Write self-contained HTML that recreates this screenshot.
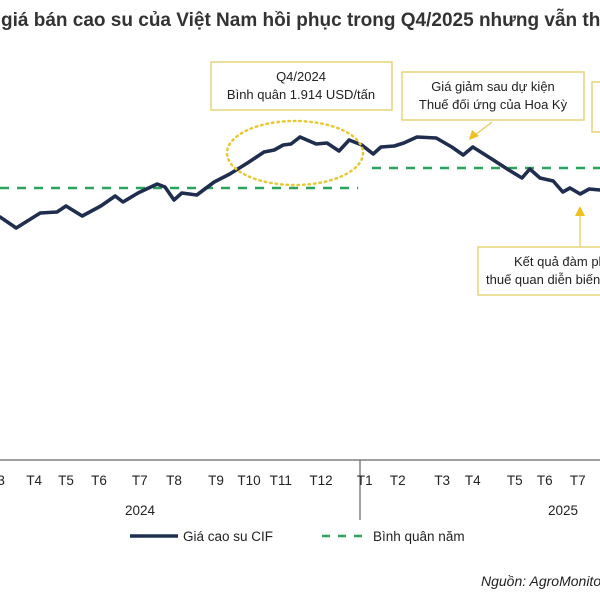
<!DOCTYPE html>
<html><head><meta charset="utf-8">
<style>
body{margin:0;background:#fff;}
svg{display:block;font-family:"Liberation Sans","Noto Sans CJK SC",sans-serif;}
</style></head>
<body>
<svg id="chart" width="600" height="600" viewBox="0 0 600 600">
<text x="1" y="26" font-size="19" font-weight="bold" fill="#333">giá bán cao su của Việt Nam hồi phục trong Q4/2025 nhưng vẫn thấp hơn cùng kỳ</text>
<g id="marks"></g>
<ellipse cx="295" cy="153" rx="68" ry="32" fill="none" stroke="#e8c832" stroke-width="2.5" stroke-dasharray="1.5,4" stroke-linecap="round"/>
<g>
<rect x="211" y="62" width="181" height="48" fill="#fff" stroke="#e6d37a" stroke-width="1.5"/>
<text x="301" y="81" font-size="13" text-anchor="middle" fill="#222">Q4/2024</text>
<text x="301" y="99" font-size="13" text-anchor="middle" fill="#222">Bình quân 1.914 USD/tấn</text>
</g>
<g>
<rect x="402" y="72" width="182" height="48" fill="#fff" stroke="#e6d37a" stroke-width="1.5"/>
<text x="493" y="91" font-size="13" text-anchor="middle" fill="#222">Giá giảm sau dự kiện</text>
<text x="493" y="109" font-size="13" text-anchor="middle" fill="#222">Thuế đối ứng của Hoa Kỳ</text>
<line x1="492" y1="122" x2="475" y2="135" stroke="#e6c84a" stroke-width="1.2"/>
<polygon points="469,140 472,130 479,136" fill="#f0c020"/>
</g>
<rect x="592" y="82" width="20" height="50" fill="#fff" stroke="#e6d37a" stroke-width="1.5"/>
<g>
<line x1="580" y1="247" x2="580" y2="214" stroke="#e6c84a" stroke-width="1.2"/>
<polygon points="580,206 575,216 585,216" fill="#f0c020"/>
<rect x="478" y="247" width="130" height="48" fill="#fff" stroke="#e6d37a" stroke-width="1.5"/>
<text x="514" y="266" font-size="13" fill="#222">Kết quả đàm phán</text>
<text x="486" y="284" font-size="13" fill="#222">thuế quan diễn biến</text>
</g>
<line x1="0" y1="460" x2="600" y2="460" stroke="#666" stroke-width="1.2"/>
<line x1="360" y1="460" x2="360" y2="520" stroke="#666" stroke-width="1.2"/>
<g id="ticks" font-size="13.5" fill="#222"></g>
<text x="140" y="515" font-size="13.5" text-anchor="middle" fill="#222">2024</text>
<text x="563" y="515" font-size="13.5" text-anchor="middle" fill="#222">2025</text>
<g>
<line x1="130" y1="536" x2="178" y2="536" stroke="#1f2d4e" stroke-width="3.5"/>
<text x="183" y="541" font-size="13.5" fill="#222">Giá cao su CIF</text>
<line x1="322" y1="536" x2="369" y2="536" stroke="#2ca25f" stroke-width="2.5" stroke-dasharray="8,8"/>
<text x="373" y="541" font-size="13.5" fill="#222">Bình quân năm</text>
</g>
<text x="481" y="586" font-size="14" font-style="italic" fill="#222">Nguồn: AgroMonitor</text>
</svg>
<script>
const weeks=[0,2.7,6.7,9.5,11,13.7,16.8,19.2,20.5,23,26.2,27.5,29,30.3,32.8,35.7,38.3,41.5,44,45.7,47.2,48.5,50,52.7,54.5,56.5,58.2,60.3,62.2,63.5,65.7,67.3,69.5,72.7,75.3,77.2,78.8,81.7,84.8,87,88.3,90,92.2,93.8,95,96.7,98.2,100];
const prices=[1600,1545,1620,1625,1655,1605,1655,1705,1675,1720,1765,1750,1685,1720,1710,1775,1815,1875,1925,1935,1960,1965,2000,1965,1970,1930,1985,1960,1915,1950,1955,1970,2000,1995,1950,1910,1950,1895,1835,1795,1840,1795,1780,1725,1745,1715,1740,1735];
const avgYears=["2024","2025"];
const avgValues=[1745,1845];
const avgStart=[0,62];
const avgEnd=[59.7,100];
const monthLabels=["T3","T4","T5","T6","T7","T8","T9","T10","T11","T12","T1","T2","T3","T4","T5","T6","T7"];
const monthWeeks=[-0.5,5.7,11,16.5,23.3,29,36,41.5,46.8,53.5,60.8,66.3,73.7,78.8,85.8,90.8,96.3];
const xS=w=>w*6;
const yS=v=>217-(v-1600)/5;
const NS="http://www.w3.org/2000/svg";
const g=document.getElementById('marks');
for(let i=0;i<avgValues.length;i++){
 const l=document.createElementNS(NS,'line');
 l.setAttribute('x1',xS(avgStart[i]));l.setAttribute('x2',xS(avgEnd[i]));
 l.setAttribute('y1',yS(avgValues[i]));l.setAttribute('y2',yS(avgValues[i]));
 l.setAttribute('stroke','#2ca25f');l.setAttribute('stroke-width','2.5');l.setAttribute('stroke-dasharray','9,8');
 
 
 g.appendChild(l);
}
const p=document.createElementNS(NS,'path');
p.setAttribute('d',weeks.map((w,i)=>(i?'L':'M')+xS(w).toFixed(1)+','+yS(prices[i]).toFixed(1)).join(''));
p.setAttribute('fill','none');p.setAttribute('stroke','#1f2d4e');p.setAttribute('stroke-width','3.6');p.setAttribute('stroke-linejoin','round');p.setAttribute('stroke-linecap','round');


g.appendChild(p);
const tg=document.getElementById('ticks');
monthLabels.forEach((m,i)=>{
 const t=document.createElementNS(NS,'text');
 t.setAttribute('x',xS(monthWeeks[i]));t.setAttribute('y',485);t.setAttribute('text-anchor','middle');
 t.textContent=m;
 
 
 tg.appendChild(t);
});
</script>
</body></html>
